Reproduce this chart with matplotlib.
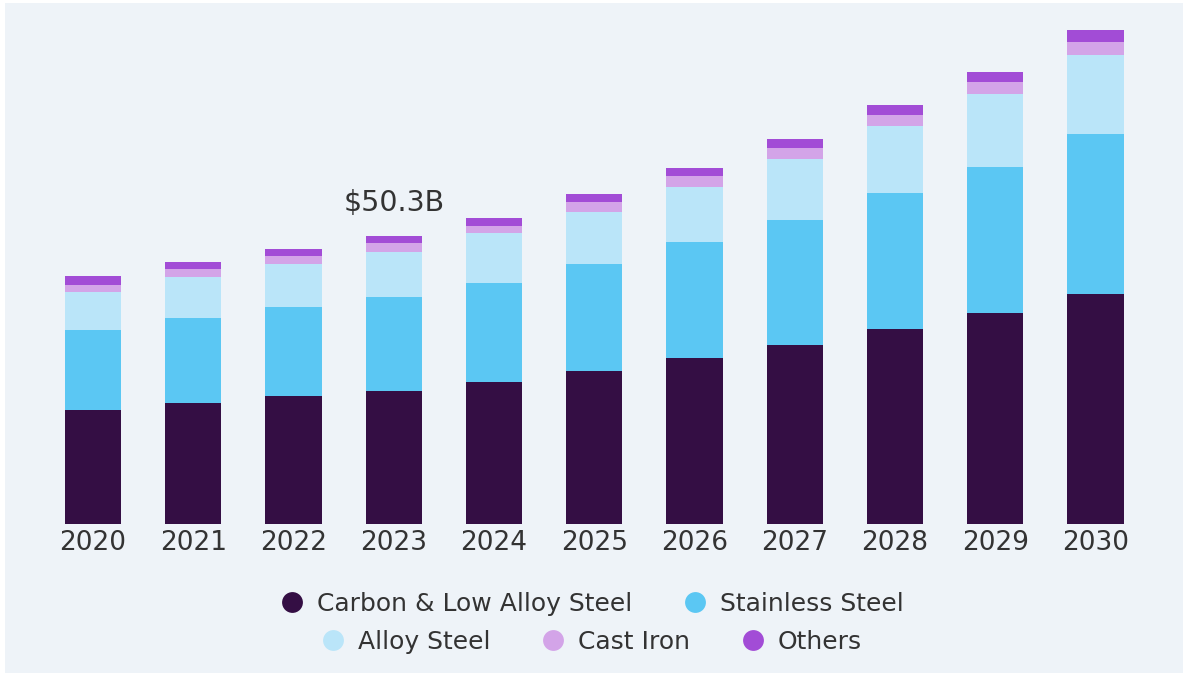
import matplotlib
matplotlib.use("Agg")
import matplotlib.pyplot as plt
from matplotlib.patches import Rectangle
from matplotlib.lines import Line2D
import numpy as np

years = ["2020", "2021", "2022", "2023", "2024", "2025", "2026", "2027", "2028", "2029", "2030"]
carbon_low_alloy = [19.8, 21.1, 22.3, 23.2, 24.7, 26.7, 28.9, 31.2, 34.0, 36.8, 40.1]
stainless = [14.0, 14.8, 15.6, 16.5, 17.5, 18.7, 20.4, 21.9, 23.9, 25.7, 28.1]
alloy_steel = [6.7, 7.3, 7.5, 7.9, 8.6, 9.2, 9.7, 10.7, 11.7, 12.7, 13.8]
cast_iron = [1.28, 1.35, 1.4, 1.47, 1.33, 1.65, 1.86, 1.93, 2.0, 2.05, 2.38]
others = [1.58, 1.23, 1.23, 1.28, 1.4, 1.4, 1.47, 1.63, 1.68, 1.86, 2.0]

series_names = ["Carbon & Low Alloy Steel", "Stainless Steel", "Alloy Steel", "Cast Iron", "Others"]
series_values = [carbon_low_alloy, stainless, alloy_steel, cast_iron, others]
colors = ["#340e44", "#5bc7f3", "#bae5f9", "#d3a4e8", "#a24cd6"]

annot_index = 3
annot_text = "$50.3B"

text_color = "#333333"
bg = "#eef3f8"

fig = plt.figure(figsize=(11.83, 6.73), dpi=100, facecolor="white")
fig.patches.append(Rectangle((5 / 1183, 0), 1 - 5 / 1183, 1 - 3 / 673,
                             transform=fig.transFigure, facecolor=bg,
                             edgecolor="none", zorder=-10))

ax = fig.add_axes([42.9 / 1183, 0.2221, 1102.7 / 1183, 0.7638])
ax.set_facecolor("none")

x = np.arange(len(years))
bottom = np.zeros(len(years))
for name, vals, c in zip(series_names, series_values, colors):
    v = np.array(vals, dtype=float)
    ax.bar(x, v, bottom=bottom, width=0.56, color=c, edgecolor="none", label=name)
    bottom += v

ax.set_xlim(-0.5, len(years) - 0.5)
ax.set_ylim(0, 90)
ax.set_xticks(x)
ax.set_xticklabels(years, fontsize=19, color=text_color)
ax.tick_params(axis="x", length=0, pad=5)
ax.set_yticks([])
for s in ax.spines.values():
    s.set_visible(False)

total = bottom[annot_index]
ax.annotate(annot_text, xy=(x[annot_index], total), xytext=(0, 24),
            textcoords="offset points", ha="center", va="center",
            fontsize=20.5, color=text_color)

def handle(c):
    return Line2D([], [], marker="o", linestyle="none", markersize=15,
                  markerfacecolor=c, markeredgecolor="none")

row1 = [0, 1]
row2 = [2, 3, 4]
common = dict(frameon=False, fontsize=18, handlelength=1.0, handletextpad=0.5,
              columnspacing=2.0, labelcolor=text_color, loc="center",
              borderaxespad=0, borderpad=0)
leg1 = fig.legend([handle(colors[i]) for i in row1], [series_names[i] for i in row1],
                  ncol=2, bbox_to_anchor=(0.5, 1 - 604 / 673), **common)
leg2 = fig.legend([handle(colors[i]) for i in row2], [series_names[i] for i in row2],
                  ncol=3, bbox_to_anchor=(0.5, 1 - 642 / 673), **common)

fig.savefig("out.png", dpi=100, facecolor=fig.get_facecolor())
